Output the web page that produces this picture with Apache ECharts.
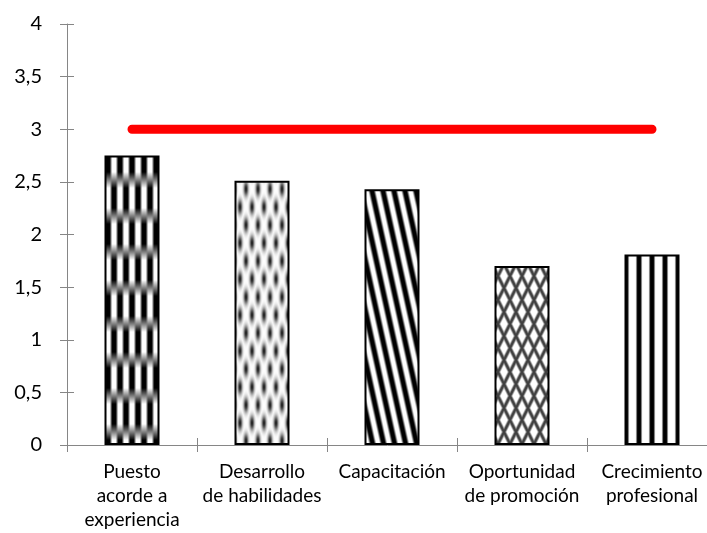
<!DOCTYPE html>
<html>
<head>
<meta charset="utf-8">
<script src="https://cdn.jsdelivr.net/npm/echarts@6/dist/echarts.min.js"></script>
<style>
  html, body { margin: 0; padding: 0; background: #fff; }
  #chart { width: 707px; height: 533px; }
</style>
</head>
<body>
<div id="chart"></div>
<script>
// Chart data
const categories = [
  'Puesto\nacorde a\nexperiencia',
  'Desarrollo\nde habilidades',
  'Capacitación',
  'Oportunidad\nde promoción',
  'Crecimiento\nprofesional'
];
const scores = [2.75, 2.51, 2.43, 1.70, 1.81];
const reference = [3, 3, 3, 3, 3];
const yTickLabels = ['0', '0,5', '1', '1,5', '2', '2,5', '3', '3,5', '4'];

// --- Fill patterns for the bars, drawn pixel by pixel on small canvases ---
function frac(t) { return t - Math.floor(t); }
function smoothstep(a, b, x) {
  const t = Math.min(1, Math.max(0, (x - a) / (b - a)));
  return t * t * (3 - 2 * t);
}
// Darkness of a periodic stripe centred on integer t
function stripe(t, duty, soft) {
  const f = frac(t);
  const dist = Math.min(f, 1 - f);
  return 1 - smoothstep(duty / 2 - soft, duty / 2 + soft, dist);
}
function makeTile(w, h, fn) {
  const c = document.createElement('canvas');
  c.width = w; c.height = h;
  const ctx = c.getContext('2d');
  const img = ctx.createImageData(w, h);
  for (let y = 0; y < h; y++) {
    for (let x = 0; x < w; x++) {
      const d = Math.min(1, Math.max(0, fn(x + 0.5, y + 0.5)));
      const v = Math.round(255 * (1 - d));
      const i = (y * w + x) * 4;
      img.data[i] = v; img.data[i + 1] = v; img.data[i + 2] = v; img.data[i + 3] = 255;
    }
  }
  ctx.putImageData(img, 0, 0);
  return c;
}

// 1: vertical stripes in staggered blocks
const tileBrick = makeTile(12, 72, (x, y) => {
  const seg = Math.floor(y / 36);
  const local = y % 36;
  const a = stripe(x / 12, 0.5, 0.14);
  const b = stripe((x - 6) / 12, 0.5, 0.14);
  const own = seg === 0 ? a : b;
  const other = seg === 0 ? b : a;
  const edge = Math.min(local, 36 - local);
  const m = edge < 8 ? 0.5 + 0.5 * edge / 8 : 1;
  return m * own + (1 - m) * other;
});

// 2: staggered elongated dots
const tileDots = makeTile(12, 36, (x, y) => {
  const centres = [[6, 9], [0, 27], [12, 27], [6, 45], [6, -27], [0, -9], [12, -9]];
  let d = 0;
  for (const [cx, cy] of centres) {
    const dx = (x - cx) / 2.4, dy = (y - cy) / 7.5;
    d = Math.max(d, 0.88 * Math.exp(-(dx * dx + dy * dy)));
  }
  return d;
});

// 3: steep diagonal stripes
const tileDiag = makeTile(11, 50, (x, y) => stripe((x - y * 11 / 50) / 11, 0.5, 0.15));

// 4: diamond lattice
const tileLattice = makeTile(12, 24, (x, y) => {
  const u = x / 12 + y / 24, v = x / 12 - y / 24;
  return 0.75 * Math.max(stripe(u, 0.3, 0.12), stripe(v, 0.3, 0.12));
});

// 5: wide vertical stripes
const tileStripes = makeTile(13, 4, (x) => stripe((x - 2) / 13, 0.38, 0.1));

const tiles = [tileBrick, tileDots, tileDiag, tileLattice, tileStripes];

const axisGrey = '#868686';
const font = 'Lato, "Open Sans", sans-serif';
// The plot area runs slightly past the right edge of the canvas
const gridBox = { left: 67, width: 650, top: 24, bottom: 88, outerBoundsMode: 'none', containLabel: false };

const chart = echarts.init(document.getElementById('chart'), null, { renderer: 'canvas' });
chart.setOption({
  animation: false,
  backgroundColor: '#ffffff',
  grid: [
    Object.assign({}, gridBox),
    Object.assign({}, gridBox)
  ],
  xAxis: [
    {
      type: 'category',
      gridIndex: 0,
      data: categories,
      axisLine: { lineStyle: { color: axisGrey, width: 1 } },
      axisTick: { show: true, length: 7, lineStyle: { color: axisGrey } },
      axisLabel: {
        interval: 0, color: '#000', fontFamily: font, fontSize: 19,
        lineHeight: 24, margin: 15
      }
    },
    {
      // inner half of the crossing ticks
      type: 'category',
      gridIndex: 1,
      data: categories,
      axisLine: { show: false },
      axisTick: { show: true, inside: true, length: 7, lineStyle: { color: axisGrey } },
      axisLabel: { show: false }
    }
  ],
  yAxis: [
    {
      type: 'value',
      gridIndex: 0,
      min: 0, max: 4, interval: 0.5,
      axisLine: { show: true, lineStyle: { color: axisGrey, width: 1 } },
      axisTick: { show: true, length: 7, lineStyle: { color: axisGrey } },
      splitLine: { show: false },
      axisLabel: {
        color: '#000', fontFamily: font, fontSize: 20, margin: 25,
        formatter: (val, idx) => yTickLabels[idx]
      }
    },
    {
      type: 'value',
      gridIndex: 1,
      min: 0, max: 4, interval: 0.5,
      axisLine: { show: false },
      axisTick: { show: true, inside: true, length: 7, lineStyle: { color: axisGrey } },
      splitLine: { show: false },
      axisLabel: { show: false }
    }
  ],
  series: [
    {
      type: 'bar',
      xAxisIndex: 0, yAxisIndex: 0,
      barWidth: 55,
      data: scores.map((v, i) => ({
        value: v,
        itemStyle: { color: { image: tiles[i], repeat: 'repeat' } }
      })),
      itemStyle: { borderColor: '#000', borderWidth: 2 }
    },
    {
      type: 'line',
      xAxisIndex: 0, yAxisIndex: 0,
      data: reference,
      symbol: 'none',
      z: 5,
      lineStyle: { color: '#ff0000', width: 9, cap: 'round' }
    }
  ]
});
</script>
</body>
</html>
